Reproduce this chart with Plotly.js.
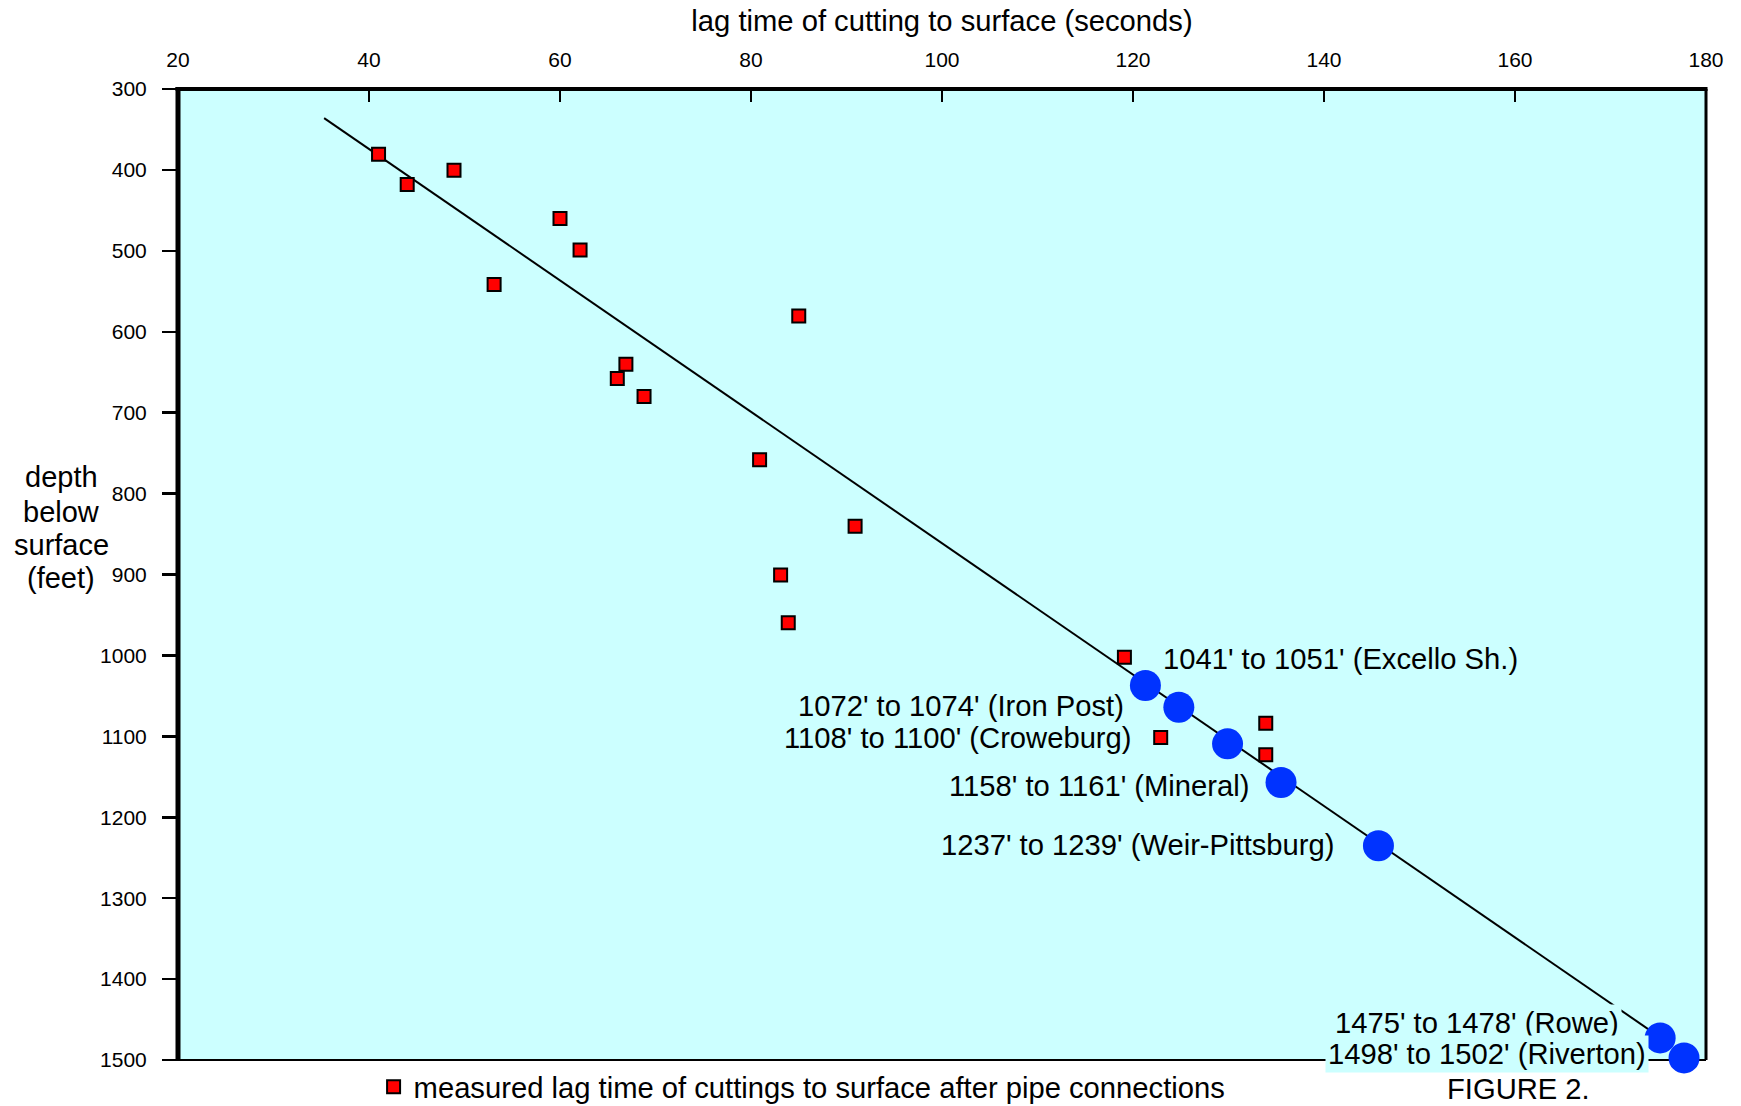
<!DOCTYPE html>
<html>
<head>
<meta charset="utf-8">
<script src="https://cdn.plot.ly/plotly-3.0.1.min.js"></script>
<style>
html, body { margin: 0; padding: 0; background: #ffffff; }
#chart { width: 1741px; height: 1106px; }
</style>
</head>
<body>
<div id="chart"></div>
<script>
// ---- data ----
const lagTimeMeasured = [41.0, 44.0, 48.9, 60.0, 62.1, 53.1, 85.0, 66.9, 66.0, 68.8, 80.9, 90.9, 83.1, 83.9, 119.1, 133.9, 122.9, 133.9];
const depthMeasured   = [380.5, 417.9, 400.3, 460, 499, 541.5, 580.6, 640.2, 657.9, 679.9, 758.1, 840.4, 900.7, 959.7, 1002.2, 1083.7, 1101.5, 1122.8];

const lagTimeFormations = [121.3, 124.8, 129.9, 135.5, 145.7, 175.2, 177.7];
const depthFormations   = [1037.2, 1064, 1109.3, 1157, 1235.2, 1472.7, 1497.4];
const formationLabels = [
  "1041' to 1051' (Excello Sh.)",
  "1072' to 1074' (Iron Post)",
  "1108' to 1100' (Croweburg)",
  "1158' to 1161' (Mineral)",
  "1237' to 1239' (Weir-Pittsburg)",
  "1475' to 1478' (Rowe)",
  "1498' to 1502' (Riverton)"
];

const trendLagTime = [35.3, 175.2];
const trendDepth   = [336, 1472];

const xTickValues = [20, 40, 60, 80, 100, 120, 140, 160, 180];
const yTickValues = [300, 400, 500, 600, 700, 800, 900, 1000, 1100, 1200, 1300, 1400, 1500];

const xAxisTitle = "lag time of cutting to surface (seconds)";
const yAxisTitleLines = ["depth", "below", "surface", "(feet)"];
const legendText = "measured lag time of cuttings to surface after pipe connections";
const figureCaption = "FIGURE 2.";

// ---- layout-only placement of the formation labels (x, y in data units, anchor) ----
const labelPlacement = [
  {x: 122.8, y: 1005.0, anchor: 'left',  bg: false},
  {x: 119.4, y: 1062.5, anchor: 'right', bg: false},
  {x: 120.2, y: 1101.5, anchor: 'right', bg: false},
  {x: 132.5, y: 1161.5, anchor: 'right', bg: false},
  {x: 141.4, y: 1234.0, anchor: 'right', bg: false},
  {x: 171.2, y: 1454.0, anchor: 'right', bg: true},
  {x: 174.0, y: 1492.5, anchor: 'right', bg: true}
];

const FONT = "Liberation Sans, Arial, Helvetica, sans-serif";
const PLOT_BG = "#ccffff";
const BIG = 29.2;

const traces = [
  {
    type: 'scatter', mode: 'lines',
    x: trendLagTime, y: trendDepth,
    line: {color: '#000000', width: 2},
    showlegend: false, hoverinfo: 'skip', cliponaxis: false
  },
  {
    type: 'scatter', mode: 'markers',
    name: legendText,
    x: lagTimeMeasured, y: depthMeasured,
    marker: {symbol: 'square', size: 13, color: '#ff0000', line: {color: '#000000', width: 2}},
    showlegend: true, cliponaxis: false
  },
  {
    type: 'scatter', mode: 'markers',
    x: lagTimeFormations, y: depthFormations,
    text: formationLabels,
    marker: {symbol: 'circle', size: 31, color: 'rgb(0,51,255)', line: {width: 0}},
    showlegend: false, cliponaxis: false
  }
];

const annotations = formationLabels.map((t, i) => ({
  text: t,
  x: labelPlacement[i].x, y: labelPlacement[i].y,
  xref: 'x', yref: 'y',
  xanchor: labelPlacement[i].anchor, yanchor: 'middle',
  showarrow: false,
  font: {family: FONT, size: BIG, color: '#000000'},
  bgcolor: labelPlacement[i].bg ? PLOT_BG : 'rgba(0,0,0,0)',
  borderpad: 2
}));

yAxisTitleLines.forEach((t, i) => {
  const ys = [0.5999, 0.5645, 0.5303, 0.4960];
  annotations.push({
    text: t, xref: 'paper', yref: 'paper',
    x: -0.0765, y: ys[i], xanchor: 'center', yanchor: 'middle',
    showarrow: false, font: {family: FONT, size: 29, color: '#000000'}
  });
});

annotations.push({
  text: figureCaption, xref: 'paper', yref: 'paper',
  x: 0.877, y: -0.0297, xanchor: 'center', yanchor: 'middle',
  showarrow: false, font: {family: FONT, size: BIG, color: '#000000'}
});

const shapes = [
  {type: 'line', xref: 'paper', yref: 'paper', x0: 0, x1: 0, y0: -0.001, y1: 1.002, line: {color: '#000', width: 5}, layer: 'below'},
  {type: 'line', xref: 'paper', yref: 'paper', x0: -0.0016, x1: 1.001, y0: 1, y1: 1, line: {color: '#000', width: 4}, layer: 'below'},
  {type: 'line', xref: 'paper', yref: 'paper', x0: 1, x1: 1, y0: 0, y1: 1, line: {color: '#000', width: 3}, layer: 'below'},
  {type: 'line', xref: 'paper', yref: 'paper', x0: 0, x1: 1, y0: 0, y1: 0, line: {color: '#000', width: 2}, layer: 'below'}
];

const layout = {
  width: 1741, height: 1106,
  margin: {l: 178, r: 34.5, t: 88.8, b: 45.6, autoexpand: false},
  paper_bgcolor: '#ffffff',
  plot_bgcolor: PLOT_BG,
  font: {family: FONT, color: '#000000'},
  showlegend: true,
  legend: {
    orientation: 'h', x: 0.128, xanchor: 'left', y: -0.0275, yanchor: 'middle',
    font: {family: FONT, size: BIG, color: '#000000'},
    bgcolor: 'rgba(0,0,0,0)', borderwidth: 0
  },
  xaxis: {
    side: 'top', range: [20, 180], tickvals: xTickValues,
    ticks: 'inside', ticklen: 13, tickwidth: 2.5, tickcolor: '#000',
    showline: false, showgrid: false, zeroline: false,
    tickfont: {family: FONT, size: 21, color: '#000'},
    ticklabelstandoff: 17,
    title: {text: xAxisTitle, font: {family: FONT, size: BIG, color: '#000'}, standoff: 7},
    layer: 'below traces', fixedrange: true
  },
  yaxis: {
    range: [1500, 300], tickvals: yTickValues,
    ticks: 'outside', ticklen: 15, tickwidth: 2.5, tickcolor: '#000',
    showline: false, showgrid: false, zeroline: false,
    tickfont: {family: FONT, size: 21, color: '#000'},
    ticklabelstandoff: 11,
    layer: 'below traces', fixedrange: true
  },
  annotations: annotations,
  shapes: shapes
};

Plotly.newPlot('chart', traces, layout, {displayModeBar: false, staticPlot: true});
</script>
</body>
</html>
